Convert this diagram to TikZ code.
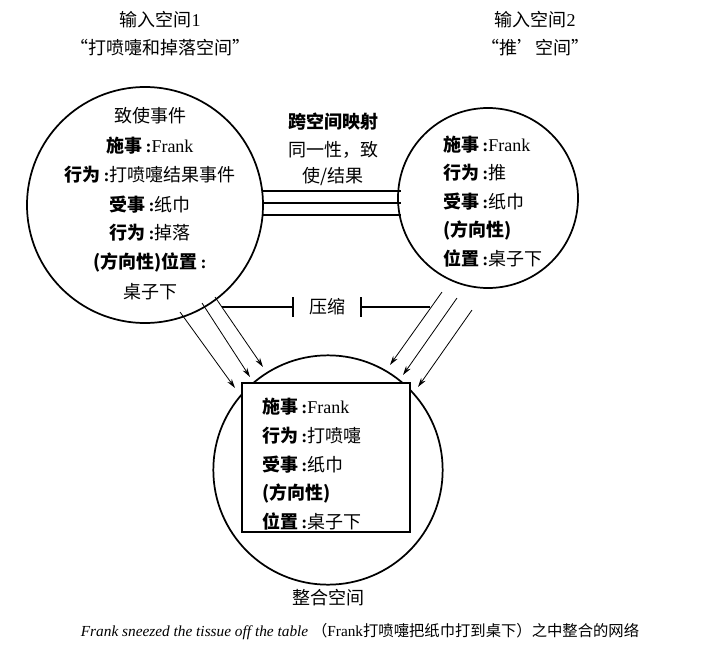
\documentclass[tikz,border=0pt]{standalone}
\usepackage{fontspec}
\setmainfont{Liberation Serif}
\newfontfamily\cjk{Noto Sans CJK SC}
\newcommand\z[1]{{\cjk #1}}
\newcommand\zb[1]{{\cjk\bfseries #1}}
\newcommand\cl{{\bfseries\,:}}
\usetikzlibrary{arrows.meta}
\begin{document}
\begin{tikzpicture}[x=0.75pt,y=-0.75pt,
  circ/.style={draw,line width=1.3pt,circle,inner sep=0pt},
  txt/.style={font=\fontsize{13.5pt}{16pt}\selectfont,inner sep=0pt},
  arr/.style={-{Stealth[length=7pt,width=4pt]},line width=0.6pt}]
\useasboundingbox (0,0) rectangle (718,650);
\node[circ,minimum size=177pt] (L) at (145,205) {};
\node[circ,minimum size=135pt] (R) at (488,198) {};
\node[circ,minimum size=172pt] (B) at (328,470) {};
\fill[white] (242,383) rectangle (410,532);
\draw[line width=1.3pt] (242,383) rectangle (410,532);
% titles
\node[txt] (t1) at (160,20) {\z{输入空间}1};
\node[txt] (t1b) at (160,48) {\z{“打喷嚏和掉落空间”}};
\node[txt] (t2) at (535,20) {\z{输入空间}2};
\node[txt] (t2b) at (535,48) {\z{“推’空间”}};
\node[txt] (tb) at (328,598) {\z{整合空间}};
\node[txt,font=\fontsize{11.5pt}{14pt}\selectfont] (cap) at (360,632) {\textit{Frank sneezed the tissue off the table} \z{（}Frank\z{打喷嚏把纸巾打到桌下）之中整合的网络}};
% left text
\node[txt] at (150,116) {\z{致使事件}};
\node[txt] at (150,146) {\zb{施事}\cl Frank};
\node[txt] at (150,175) {\zb{行为}\cl\z{打喷嚏结果事件}};
\node[txt] at (150,205) {\zb{受事}\cl\z{纸巾}};
\node[txt] at (150,233) {\zb{行为}\cl\z{掉落}};
\node[txt] at (150,262) {\zb{(方向性)位置}\cl};
\node[txt] at (150,292) {\z{桌子下}};
% middle
\node[txt] at (333,122) {\zb{跨空间映射}};
\node[txt] at (333,150) {\z{同一性，致}};
\node[txt] at (333,177) {\z{使/结果}};
% right
\node[txt,anchor=west] at (443,145) {\zb{施事}\cl Frank};
\node[txt,anchor=west] at (443,173) {\zb{行为}\cl\z{推}};
\node[txt,anchor=west] at (443,202) {\zb{受事}\cl\z{纸巾}};
\node[txt,anchor=west] at (443,230) {\zb{(方向性)}};
\node[txt,anchor=west] at (443,258) {\zb{位置}\cl\z{桌子下}};
% bottom
\node[txt,anchor=west] at (262,407) {\zb{施事}\cl Frank};
\node[txt,anchor=west] at (262,436) {\zb{行为}\cl\z{打喷嚏}};
\node[txt,anchor=west] at (262,465) {\zb{受事}\cl\z{纸巾}};
\node[txt,anchor=west] at (262,493) {\zb{(方向性)}};
\node[txt,anchor=west] at (262,521) {\zb{位置}\cl\z{桌子下}};
% cross-space lines
\foreach \yy in {191,203,215} \draw[line width=0.9pt] (262,\yy) -- (401,\yy);
% compression
\node[txt] (cmp) at (327,307) {\z{压缩}};
\draw[line width=0.8pt] (222,307) -- (293,307) (293,297) -- (293,317);
\draw[line width=0.8pt] (361,307) -- (430,307) (361,297) -- (361,317);
% arrows
\draw[arr] (180,312) -- (235,388);
\draw[arr] (202,303) -- (250,377);
\draw[arr] (215,297) -- (263,367);
\draw[arr] (442,292) -- (390,365);
\draw[arr] (457,298) -- (403,375);
\draw[arr] (472,310) -- (418,387);
\end{tikzpicture}
\end{document}
